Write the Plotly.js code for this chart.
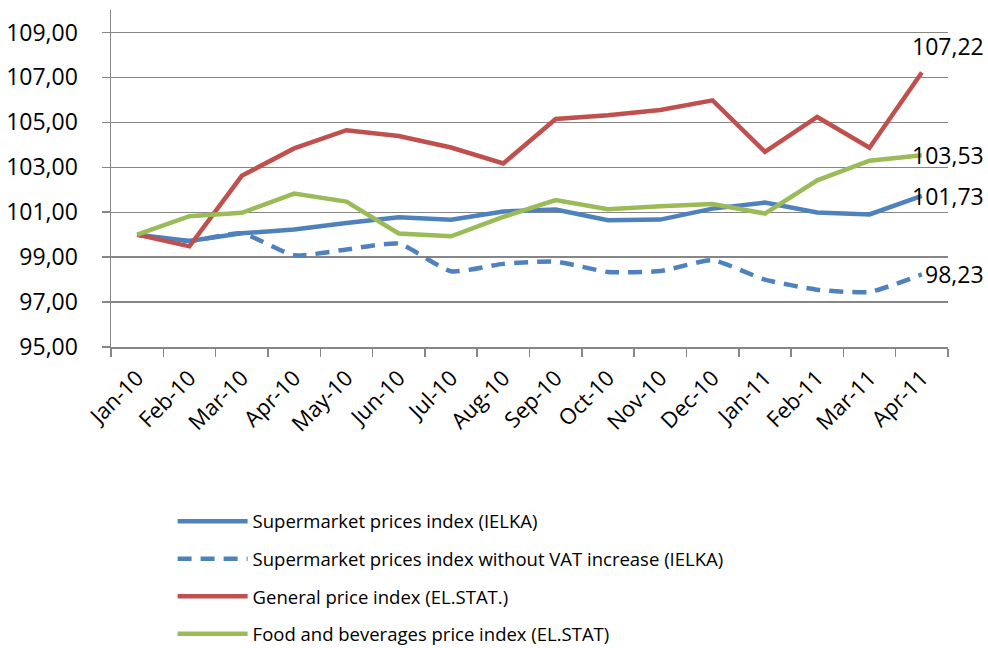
<!DOCTYPE html>
<html>
<head>
<meta charset="utf-8">
<script src="https://cdn.plot.ly/plotly-3.0.1.min.js"></script>
<style>html,body{margin:0;padding:0;background:#fff;}#chart{width:988px;height:648px;}</style>
</head>
<body>
<div id="chart"></div>
<script>
const months = ["Jan-10","Feb-10","Mar-10","Apr-10","May-10","Jun-10","Jul-10","Aug-10","Sep-10","Oct-10","Nov-10","Dec-10","Jan-11","Feb-11","Mar-11","Apr-11"];
const supermarketIndex = [100.00, 99.72, 100.06, 100.23, 100.52, 100.78, 100.66, 101.03, 101.12, 100.64, 100.67, 101.16, 101.43, 100.99, 100.90, 101.73];
const supermarketNoVat = [100.00, 99.72, 100.06, 99.08, 99.34, 99.60, 98.37, 98.70, 98.80, 98.34, 98.38, 98.86, 98.00, 97.55, 97.45, 98.23];
const generalIndex = [100.00, 99.48, 102.62, 103.84, 104.65, 104.39, 103.88, 103.17, 105.15, 105.32, 105.55, 105.98, 103.69, 105.24, 103.87, 107.22];
const foodIndex = [100.00, 100.82, 100.97, 101.83, 101.47, 100.05, 99.93, 100.79, 101.54, 101.13, 101.27, 101.36, 100.94, 102.42, 103.29, 103.53];
const seriesNames = ["Supermarket prices index (IELKA)","Supermarket prices index without VAT increase (IELKA)","General price index (EL.STAT.)","Food and beverages price index (EL.STAT)"];

const FONT = "Open Sans, sans-serif";
const colors = ["#4F81BD","#4F81BD","#C0504D","#9BBB59"];
const allSeries = [supermarketIndex, supermarketNoVat, generalIndex, foodIndex];

const traces = allSeries.map((vals, i) => ({
  type: "scatter",
  mode: "lines",
  x: months,
  y: vals,
  name: seriesNames[i],
  legendgroup: "g" + i,
  line: {
    color: colors[i],
    width: 4.5,
    dash: i === 1 ? "14px,9px" : "solid",
    shape: i === 1 ? "spline" : "linear",
    smoothing: i === 1 ? 0.5 : undefined
  },
  hoverinfo: "skip"
}));

const fmt = v => v.toFixed(2).replace(".", ",");
const last = months.length - 1;
const labelShifts = [[-12, 0], [1, 0], [-12, 26], [-12, 0]];
const annotations = allSeries.map((vals, i) => ({
  x: months[last],
  y: vals[last],
  xref: "x", yref: "y",
  text: fmt(vals[last]),
  showarrow: false,
  xanchor: "left",
  yanchor: "middle",
  xshift: labelShifts[i][0],
  yshift: labelShifts[i][1],
  font: {family: FONT, size: 23, color: "#000"}
}));

const layout = {
  width: 988,
  height: 648,
  margin: {l: 111, r: 40, t: 10, b: 301, autoexpand: false},
  paper_bgcolor: "#fff",
  plot_bgcolor: "#fff",
  separators: ",.",
  showlegend: true,
  legend: {
    orientation: "v",
    x: 0.0736, xanchor: "left",
    y: -0.462, yanchor: "top",
    font: {family: FONT, size: 18.5, color: "#000"},
    traceorder: "grouped",
    tracegroupgap: 10.5,
    itemwidth: 70
  },
  xaxis: {
    type: "category",
    range: [-0.5, 15.5],
    tickson: "boundaries",
    ticks: "outside",
    ticklen: 8,
    tickwidth: 1.5,
    tickcolor: "#868686",
    showline: true,
    linecolor: "#868686",
    linewidth: 1.5,
    showgrid: false,
    tickangle: -45,
    ticklabelstandoff: 8,
    automargin: false,
    tickfont: {family: FONT, size: 22, color: "#000"}
  },
  yaxis: {
    range: [95, 110],
    tick0: 95,
    dtick: 2,
    tickformat: ".2f",
    showgrid: true,
    gridcolor: "#868686",
    gridwidth: 1.3,
    zeroline: false,
    ticks: "outside",
    ticklen: 8,
    tickwidth: 1.5,
    tickcolor: "#868686",
    showline: true,
    linecolor: "#868686",
    linewidth: 1.5,
    ticklabelstandoff: 19,
    automargin: false,
    tickfont: {family: FONT, size: 23, color: "#000"}
  },
  annotations: annotations
};

Plotly.newPlot("chart", traces, layout, {staticPlot: true, displayModeBar: false});
</script>
</body>
</html>
